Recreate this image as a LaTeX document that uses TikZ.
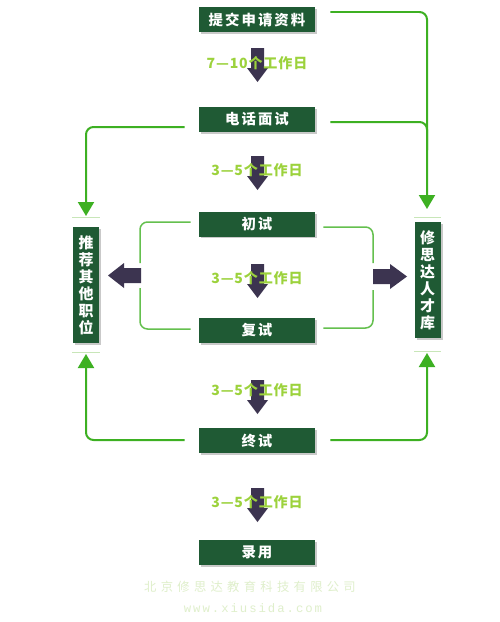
\documentclass[tikz,border=0pt]{standalone}
\usepackage{fontspec}
\setmainfont{Noto Sans CJK SC}
\newfontfamily\boxfont[LetterSpace=14]{Noto Sans CJK SC}
\newfontfamily\lblfont[LetterSpace=6]{Noto Sans CJK SC}
\newfontfamily\footfont[LetterSpace=35]{Noto Sans CJK SC}
\newfontfamily\urlfont[LetterSpace=16]{Liberation Mono}
\usetikzlibrary{arrows.meta,shadows}
\definecolor{boxgreen}{HTML}{1F5A34}
\definecolor{linegreen}{HTML}{3DB022}
\definecolor{lblgreen}{HTML}{9CD23C}
\definecolor{arrowdark}{HTML}{3C3450}
\definecolor{footgreen}{HTML}{DFEFCB}
\definecolor{thinline}{HTML}{C8E6B8}
\tikzset{
  mainbox/.style={fill=boxgreen, text=white, minimum width=2.32cm, minimum height=0.5cm, inner sep=0pt,
    font=\boxfont\bfseries\fontsize{8.2}{9}\selectfont,
    drop shadow={shadow xshift=0.04cm, shadow yshift=-0.04cm, fill=black!35, opacity=0.6}},
  sidebox/.style={fill=boxgreen, text=white, minimum width=0.52cm, minimum height=2.32cm, inner sep=0pt, align=center,
    font=\bfseries\fontsize{8.5}{9.7}\selectfont,
    drop shadow={shadow xshift=0.04cm, shadow yshift=-0.04cm, fill=black!35, opacity=0.6}},
  daylabel/.style={text=lblgreen, font=\lblfont\bfseries\fontsize{8}{9}\selectfont, inner sep=0pt},
  gline/.style={draw=linegreen, line width=0.04cm, rounded corners=0.15cm},
  garrow/.style={gline, -{Triangle[width=0.32cm,length=0.28cm]}},
  bracket/.style={draw=linegreen!80!white, line width=0.03cm, rounded corners=0.15cm},
  thin/.style={draw=thinline, line width=0.02cm},
  downarrow/.pic={\fill[arrowdark] (-6.5,0) -- (6.5,0) -- (6.5,20) -- (10.5,20) -- (0,34) -- (-10.5,20) -- (-6.5,20) -- cycle;},
  leftarrow/.pic={\fill[arrowdark] (0,-7.5) -- (-17,-7.5) -- (-17,-12.5) -- (-33,0) -- (-17,12.5) -- (-17,7.5) -- (0,7.5) -- cycle;},
  rightarrow/.pic={\fill[arrowdark] (0,-7.5) -- (17,-7.5) -- (17,-12.5) -- (34,0) -- (17,12.5) -- (17,7.5) -- (0,7.5) -- cycle;}
}
\begin{document}
\begin{tikzpicture}[x=0.02cm, y=-0.02cm]
\useasboundingbox[fill=white] (0,0) rectangle (500,622);

% main boxes
\node[mainbox] (s1) at (257,19.5) {提交申请资料};
\node[mainbox] (s2) at (257,119.5) {电话面试};
\node[mainbox] (s3) at (257,224) {初试};
\node[mainbox] (s4) at (257,330) {复试};
\node[mainbox] (s5) at (257,440.5) {终试};
\node[mainbox] (s6) at (257,552.5) {录用};

% side boxes
\node[sidebox] (rec) at (86,285) {推\\荐\\其\\他\\职\\位};
\node[sidebox] (pool) at (427.5,280) {修\\思\\达\\人\\才\\库};

% thin lines above/below side boxes
\draw[thin] (72,217) -- (100,217);
\draw[thin] (72,352) -- (100,352);
\draw[thin] (414,217) -- (441,217);
\draw[thin] (414,351) -- (441,351);

% coordinates for connectors
\coordinate (poolTop) at (427,209);
\coordinate (poolBot) at (427,353);
\coordinate (recTop) at (86,216);
\coordinate (recBot) at (86,354);

% green connectors
\draw[garrow] ([xshift=0.3cm]s1.east |- 0,12) -| (poolTop);
\draw[gline] ([xshift=0.3cm]s2.east |- 0,122) -| (427,150);
\draw[garrow] ([xshift=-0.28cm]s2.west |- 0,127) -| (recTop);
\draw[garrow] ([xshift=-0.28cm]s5.west |- 0,440) -| (recBot);
\draw[garrow] ([xshift=0.3cm]s5.east |- 0,440) -| (poolBot);

% brackets
\draw[bracket] ([xshift=-0.16cm]s3.west |- 0,222) -| (140,263);
\draw[bracket] (140,288) |- ([xshift=-0.16cm]s4.west |- 0,329);
\draw[bracket] ([xshift=0.16cm]s3.east |- 0,227) -| (373,263);
\draw[bracket] (373,290) |- ([xshift=0.16cm]s4.east |- 0,328);

% fat arrows
\pic at (141,275.5) {leftarrow};
\pic at (373,276.5) {rightarrow};
\pic at (257.5,48) {downarrow};
\pic at (257.5,156) {downarrow};
\pic at (257.5,264) {downarrow};
\pic at (257.5,380) {downarrow};
\pic at (257.5,488) {downarrow};

% day labels
\node[daylabel] (d1) at (257,63) {7—10个工作日};
\node[daylabel] (d2) at (257,170) {3—5个工作日};
\node[daylabel] (d3) at (257,278) {3—5个工作日};
\node[daylabel] (d4) at (257,390) {3—5个工作日};
\node[daylabel] (d5) at (257,502) {3—5个工作日};

% footer
\node[text=footgreen, font=\footfont\fontsize{7}{8}\selectfont, inner sep=0pt] (f1) at (250,587) {北京修思达教育科技有限公司};
\node[text=footgreen, font=\urlfont\fontsize{7}{8}\selectfont, inner sep=0pt] (f2) at (253,608) {www.xiusida.com};
\end{tikzpicture}
\end{document}
